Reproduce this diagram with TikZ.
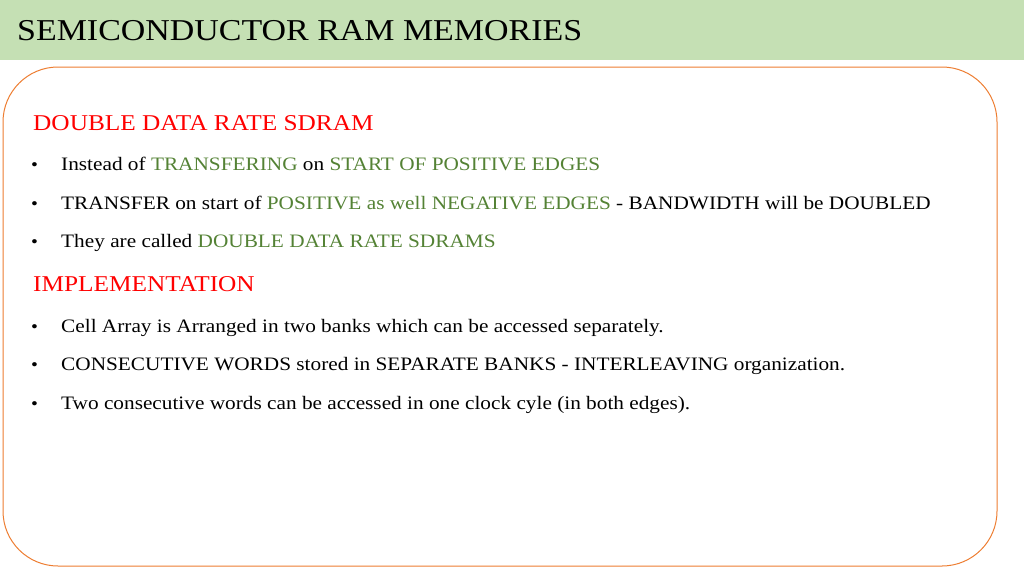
\documentclass[tikz,border=0pt]{standalone}
\usepackage{fontspec}
\setmainfont[FakeStretch=1.12]{Liberation Serif}
\definecolor{bandgreen}{HTML}{C5E0B4}
\definecolor{frameorange}{HTML}{ED7D31}
\definecolor{headred}{HTML}{FF0000}
\definecolor{keygreen}{HTML}{548235}
\tikzset{
  heading/.style = {anchor=base west, inner sep=0pt, text=headred, font=\fontsize{22.6}{26}\selectfont},
  item/.style = {anchor=base west, inner sep=0pt, font=\fontsize{19}{22}\selectfont},
  dot/.style = {anchor=base west, inner sep=0pt, font=\fontsize{17.5}{21}\selectfont}
}
\newcommand{\key}[1]{\textcolor{keygreen}{#1}}
\begin{document}
\begin{tikzpicture}[x=1pt, y=-1pt]
    \useasboundingbox (0,0) rectangle (1024,576);
    % Title band
    \fill[bandgreen] (0,0) rectangle (1024,60);
    \node[anchor=base west, inner sep=0pt, font=\fontsize{30.3}{35}\selectfont] (title) at (17,40) {SEMICONDUCTOR RAM MEMORIES};
    % Frame
    \draw[frameorange, line width=1pt, rounded corners=55pt] (3,67) rectangle (997,566);

    % Section: DDR SDRAM
    \node[heading] (ddr) at (33,130) {DOUBLE DATA RATE SDRAM};
    \node[dot] (b1) at (31,170) {\textbullet};
    \node[item] (t1) at (61,170) {Instead of \key{TRANSFERING} on \key{START OF POSITIVE EDGES}};
    \node[dot] (b2) at (31,209) {\textbullet};
    \node[item] (t2) at (61,209) {TRANSFER on start of \key{POSITIVE as well NEGATIVE EDGES} - BANDWIDTH will be DOUBLED};
    \node[dot] (b3) at (31,247) {\textbullet};
    \node[item] (t3) at (61,247) {They are called \key{DOUBLE DATA RATE SDRAMS}};

    % Section: implementation
    \node[heading] (impl) at (33,291) {IMPLEMENTATION};
    \node[dot] (b4) at (31,332) {\textbullet};
    \node[item] (t4) at (61,332) {Cell Array is Arranged in two banks which can be accessed separately.};
    \node[dot] (b5) at (31,370) {\textbullet};
    \node[item] (t5) at (61,370) {CONSECUTIVE WORDS stored in SEPARATE BANKS - INTERLEAVING organization.};
    \node[dot] (b6) at (31,409) {\textbullet};
    \node[item] (t6) at (61,409) {Two consecutive words can be accessed in one clock cyle (in both edges).};
\end{tikzpicture}
\end{document}
